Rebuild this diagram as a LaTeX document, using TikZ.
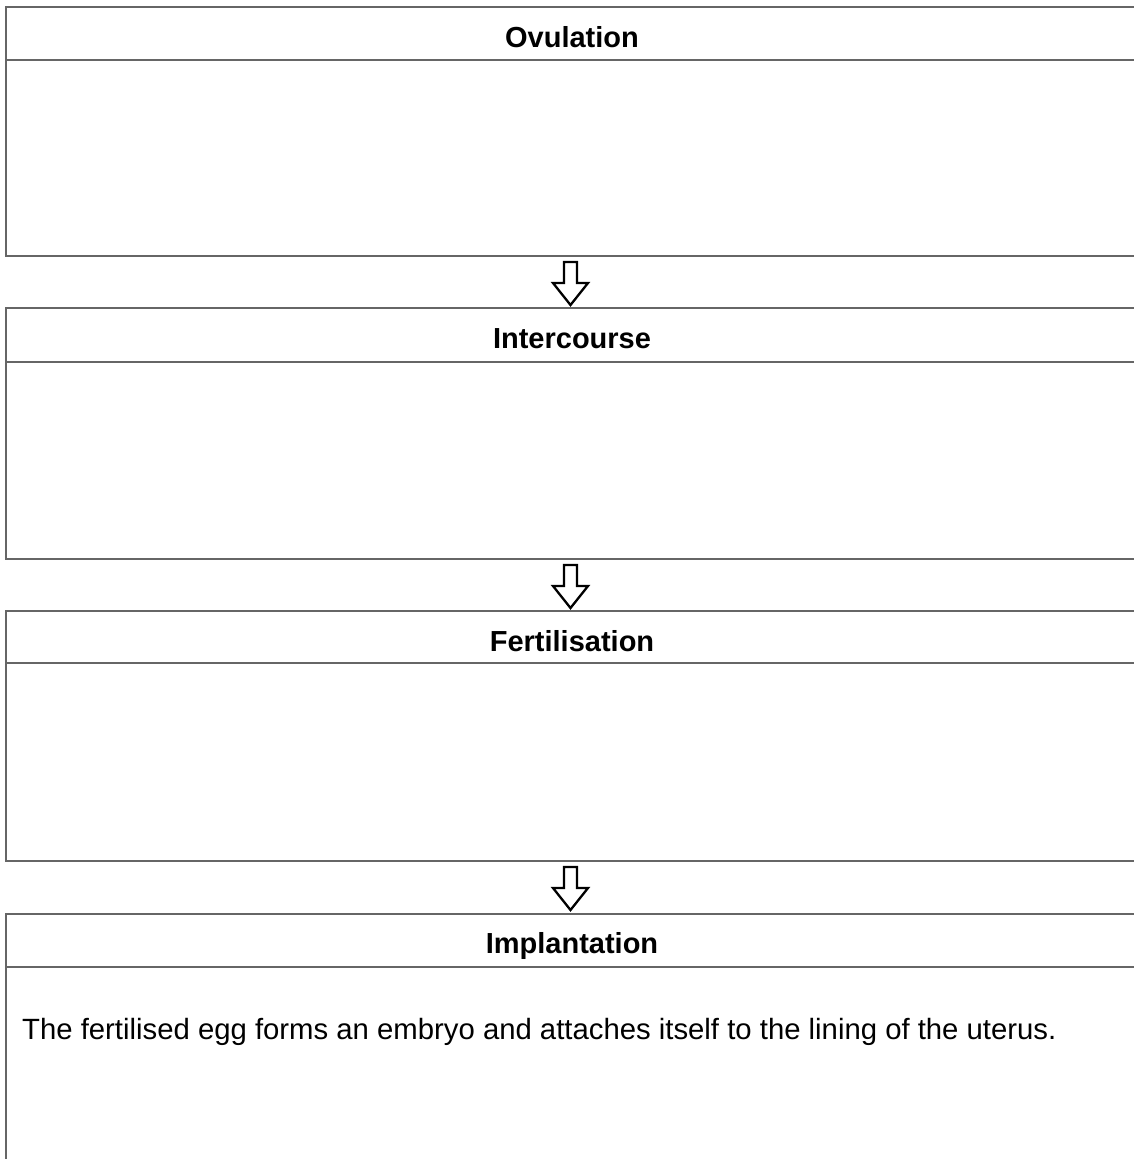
\documentclass[tikz,border=0pt]{standalone}
\usepackage{fontspec}
\setmainfont{Liberation Sans}
\begin{document}
\begin{tikzpicture}[x=1pt,y=-1pt,
  stagebox/.style={draw=black!60, line width=1.6pt, fill=none},
  headline/.style={draw=black!60, line width=1.6pt},
  title/.style={font=\fontsize{29}{34}\selectfont\bfseries, anchor=base},
  body/.style={font=\fontsize{29.3}{34}\selectfont, anchor=base west, inner sep=0pt},
  flowarrow/.style={draw=black, line width=2.3pt, fill=white, line join=miter}]
\useasboundingbox (0,0) rectangle (1134,1159);
\clip (0,0) rectangle (1134,1159);
% boxes
\draw[stagebox] (6,7) rectangle (1145,256);
\draw[stagebox] (6,308) rectangle (1145,559);
\draw[stagebox] (6,611) rectangle (1145,861);
\draw[stagebox] (6,914) rectangle (1145,1175);
% header separators
\draw[headline] (6,60) -- (1145,60);
\draw[headline] (6,362) -- (1145,362);
\draw[headline] (6,663) -- (1145,663);
\draw[headline] (6,967) -- (1145,967);
% titles
\node[title] (t1) at (572,47) {Ovulation};
\node[title] (t2) at (572,348) {Intercourse};
\node[title] (t3) at (572,651) {Fertilisation};
\node[title] (t4) at (572,953) {Implantation};
\node[body] (d4) at (22,1039) {The fertilised egg forms an embryo and attaches itself to the lining of the uterus.};
% arrows
\foreach \y in {256,559,861}{
  \draw[flowarrow] (564,\y+6) -- (577,\y+6) -- (577,\y+27) -- (588,\y+27)
    -- (570.5,\y+49) -- (553,\y+27) -- (564,\y+27) -- cycle;
}
\end{tikzpicture}
\end{document}
